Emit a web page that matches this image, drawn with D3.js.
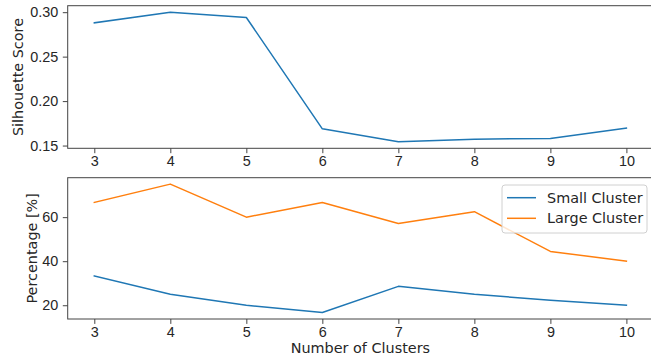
<!DOCTYPE html>
<html>
<head>
<meta charset="utf-8">
<script src="https://cdn.jsdelivr.net/npm/d3@7"></script>
<style>
  html, body { margin: 0; padding: 0; background: #fff; }
  svg { display: block; font-family: "DejaVu Sans", sans-serif; }
  .axis text { font-size: 14.4px; fill: #262626; }
  .axis path, .axis line { stroke: #444; stroke-width: 1; }
</style>
</head>
<body>
<script>
// Cluster counts evaluated
const clusters = [3, 4, 5, 6, 7, 8, 9, 10];
// Mean silhouette score per cluster count
const silhouette = [0.288, 0.300, 0.294, 0.1688, 0.1542, 0.1572, 0.158, 0.1696];
// Share of points in the smallest / largest cluster [%]
const smallCluster = [33.33, 25.0, 20.0, 16.67, 28.57, 25.0, 22.22, 20.0];
const largeCluster = [66.67, 75.0, 60.0, 66.67, 57.14, 62.5, 44.44, 40.0];
const silhouetteTicks = [0.15, 0.20, 0.25, 0.30];
const percentTicks = [20, 40, 60];

const W = 651, H = 355;
const left = 67.7, right = 653;
const top1 = 5.7, bottom1 = 148.3;
const top2 = 177.7, bottom2 = 319;
const blue = "#1f77b4", orange = "#ff7f0e";

const svg = d3.select("body").append("svg").attr("width", W).attr("height", H);

// Matplotlib-like 5% margins on both axes
function padded(ext) {
  const d = (ext[1] - ext[0]) * 0.05;
  return [ext[0] - d, ext[1] + d];
}

const x = d3.scaleLinear().domain(padded(d3.extent(clusters))).range([left, right]);

const y1 = d3.scaleLinear().domain(padded(d3.extent(silhouette))).range([bottom1, top1]);
const y2 = d3.scaleLinear()
  .domain(padded(d3.extent(smallCluster.concat(largeCluster))))
  .range([bottom2, top2]);

function frame(t, b) {
  svg.append("rect").attr("x", left).attr("y", t)
    .attr("width", right - left).attr("height", b - t)
    .attr("fill", "none").attr("stroke", "#444").attr("stroke-width", 1);
}

function drawAxes(y, t, b, ticks, fmt) {
  frame(t, b);
  svg.append("g").attr("class", "axis")
    .attr("transform", `translate(0,${b})`)
    .call(d3.axisBottom(x).tickValues(clusters).tickSize(4.9).tickPadding(3).tickFormat(d3.format("d")))
    .call(g => g.select(".domain").remove());
  svg.append("g").attr("class", "axis")
    .attr("transform", `translate(${left},0)`)
    .call(d3.axisLeft(y).tickValues(ticks).tickSize(4.9).tickPadding(4.5).tickFormat(fmt))
    .call(g => g.select(".domain").remove());
}

drawAxes(y1, top1, bottom1, silhouetteTicks, d3.format(".2f"));
drawAxes(y2, top2, bottom2, percentTicks, d3.format("d"));

function series(vals, y, color) {
  const line = d3.line().x((d, i) => x(clusters[i])).y(d => y(d));
  svg.append("path").datum(vals).attr("d", line)
    .attr("fill", "none").attr("stroke", color).attr("stroke-width", 1.5)
    .attr("stroke-linejoin", "round").attr("stroke-linecap", "square");
}

series(silhouette, y1, blue);
series(smallCluster, y2, blue);
series(largeCluster, y2, orange);

// Axis titles
svg.append("text").attr("transform", `translate(23,${(top1 + bottom1) / 2}) rotate(-90)`)
  .attr("text-anchor", "middle").attr("font-size", 14.4).attr("fill", "#262626")
  .text("Silhouette Score");
svg.append("text").attr("transform", `translate(37,${(top2 + bottom2) / 2}) rotate(-90)`)
  .attr("text-anchor", "middle").attr("font-size", 14.4).attr("fill", "#262626")
  .text("Percentage [%]");
svg.append("text").attr("x", (left + right) / 2).attr("y", 353)
  .attr("text-anchor", "middle").attr("font-size", 14.4).attr("fill", "#262626")
  .text("Number of Clusters");

// Legend
const legendItems = [{ name: "Small Cluster", color: blue }, { name: "Large Cluster", color: orange }];
const lg = svg.append("g");
lg.append("rect").attr("x", 502).attr("y", 185).attr("width", 145).attr("height", 48)
  .attr("rx", 3).attr("fill", "#fff").attr("fill-opacity", 0.8)
  .attr("stroke", "#d0d0d0").attr("stroke-width", 1);
legendItems.forEach((d, i) => {
  const cy = 197.7 + i * 20.6;
  lg.append("line").attr("x1", 507).attr("x2", 536).attr("y1", cy).attr("y2", cy)
    .attr("stroke", d.color).attr("stroke-width", 1.5);
  lg.append("text").attr("x", 547).attr("y", cy).attr("dy", "0.36em")
    .attr("font-size", 14.4).attr("fill", "#262626").text(d.name);
});
</script>
</body>
</html>
